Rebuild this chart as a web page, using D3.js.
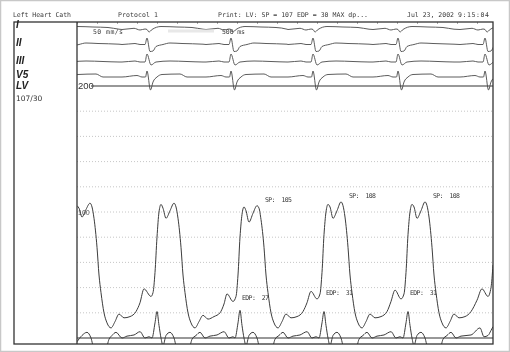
<!DOCTYPE html>
<meta charset="utf-8">
<head>
<style>
body { margin: 0; background: #fff; }
svg { will-change: transform; }
text { font-family: "DejaVu Sans Mono", monospace; fill: #3a3a3a; }
.lead { font-family: "Liberation Sans", Arial, sans-serif; font-weight: bold; font-style: italic; font-size: 10px; fill: #222; }
.trace { fill: none; stroke: #3c3c3c; stroke-width: 1; }
.ecg { fill: none; stroke: #4a4a4a; stroke-width: 0.9; }
.grid { stroke: #b8b8b8; stroke-width: 0.8; stroke-dasharray: 1,2; }
.note { font-size: 6.5px; white-space: pre; }
</style>
</head>
<body>
<div id="chart"></div>
<script src="https://d3js.org/d3.v7.min.js"></script>
<script>

// header strings
var headerTexts = ["Left Heart Cath", "Protocol 1", "Print: LV: SP = 107 EDP = 30 MAX dp...", "Jul 23, 2002", "9:15:04"];
var leadNames = ["I", "II", "III", "V5", "LV"];
var lvReading = "107/30";

// LV pressure, [ms, mmHg]
var lvPressure = [
  [0,105],[20,103],[50,96],[90,102],[130,107],[150,104],[170,95],[200,72],[220,50],[240,36],[270,20],[300,12],[340,8],
  [380,13],[420,19],[470,16],[530,17],[590,21],[630,28],[670,39],
  [740,33],[760,36],[780,52],[800,80],[820,100],[840,106],[860,103],[890,95],[930,101],[970,107],[990,104],[1010,95],
  [1040,72],[1060,50],[1080,36],[1110,20],[1140,12],[1180,8],[1220,13],[1260,18],[1310,15],[1370,17],[1430,20],[1470,27],[1500,35],
  [1560,29],[1590,33],[1610,50],[1630,80],[1650,98],[1670,104],[1690,101],[1720,92],[1760,99],[1800,105],[1820,103],[1840,94],
  [1870,72],[1890,50],[1910,36],[1940,20],[1970,12],[2010,8],[2050,13],[2090,19],[2140,16],[2200,17],[2260,21],[2300,28],[2340,37],
  [2400,31],[2430,35],[2450,52],[2470,82],[2490,100],[2510,106],[2530,104],[2560,95],[2600,101],[2640,108],[2660,105],[2680,96],
  [2710,72],[2730,50],[2750,36],[2780,20],[2810,12],[2850,8],[2890,13],[2930,19],[2980,16],[3040,17],[3100,21],[3140,29],[3180,38],
  [3240,31],[3270,35],[3290,52],[3310,82],[3330,100],[3350,106],[3370,104],[3400,95],[3440,101],[3480,108],[3500,105],[3520,96],
  [3550,72],[3570,50],[3590,36],[3620,20],[3650,12],[3690,8],[3730,13],[3770,19],[3820,16],[3880,17],[3940,21],[4000,30],[4050,39],
  [4110,33],[4140,40],[4160,58]
];

// second (dP/dt) channel, drawn on the same pressure grid
var lvDerivative = [
  [0,-3],[50,2],[100,4.5],[140,0],[170,-8],[290,-8],[320,-1],[350,2],[390,4.5],[450,0],[500,1.5],[570,2.4],[630,5],[680,0],[720,1],
  [750,0],[780,12],[800,21],[820,10],[840,0],[860,-6],[890,2],[930,4.5],[970,0],[1000,-8],[1120,-8],[1150,-1],[1190,2],[1230,4.5],
  [1280,0],[1330,1.5],[1400,2.4],[1470,5],[1520,0],[1560,1],
  [1580,0],[1610,12],[1630,22],[1650,10],[1670,0],[1690,-6],[1720,2],[1760,4.5],[1800,0],[1830,-8],[1950,-8],[1980,-1],[2020,2],
  [2060,4.5],[2110,0],[2160,1.5],[2230,2.4],[2300,5],[2350,0],[2390,1],
  [2420,0],[2450,12],[2470,21],[2490,10],[2510,0],[2530,-6],[2560,2],[2600,4.5],[2640,0],[2670,-8],[2790,-8],[2820,-1],[2860,2],
  [2900,4.5],[2950,0],[3000,1.5],[3070,2.4],[3140,5],[3190,0],[3230,1],
  [3260,0],[3290,12],[3310,21],[3330,10],[3350,0],[3370,-6],[3400,2],[3440,4.5],[3480,0],[3510,-8],[3630,-8],[3660,-1],[3700,2],
  [3740,4.5],[3790,0],[3840,1.5],[3940,2.4],[4030,8],[4070,1],[4110,2],[4140,6],[4160,9]
];

// ECG: R-wave times (ms) and the beat shape of each lead, [ms from R, amplitude]
var rWaveTimes = [-140, 700, 1540, 2360, 3210, 4080];
var leadI   = [[-250,0],[-130,1.2],[-70,-0.5],[-20,0.5],[0,0],[20,-2.5],[50,0],[140,3],[300,2.5],[450,2],[560,0.3]];
var leadII  = [[-250,0],[-120,1],[-70,0],[-20,0],[0,6.5],[30,-7],[60,-6.5],[90,-2],[160,0],[230,1.5],[350,1],[560,0.3]];
var leadIII = [[-250,0],[-120,1],[-70,0],[-20,0],[0,8],[40,-3],[90,0],[230,1],[400,0.5],[560,0]];
var leadV5  = [[-250,0],[-100,1.5],[-50,0],[-15,0],[0,6],[35,-13],[60,-5],[100,0],[150,2.5],[330,3],[400,0],[560,0]];

var gridValues = [20, 40, 60, 80, 100, 120, 140, 160, 180];
var systolic = [[1800,105],[2640,108],[3480,108]];
var endDiastolic = [[1560,27],[2400,31],[3240,31]];

var W = 510, H = 352;
var svg = d3.select("#chart").append("svg").attr("width", W).attr("height", H);

svg.append("rect").attr("x", 0.5).attr("y", 0.5).attr("width", W - 1).attr("height", H - 1)
  .attr("fill", "#fff").attr("stroke", "#c8c8c8").attr("stroke-width", 1.5);

var x = d3.scaleLinear().domain([0, 4160]).range([77, 493]);
var y = d3.scaleLinear().domain([0, 200]).range([338, 86]);

// header
var headerX = [13, 118, 218, 407, 458];
var headerW = [58, 40, 150, 47, 31];
svg.selectAll(".hdr").data(headerTexts).enter().append("text")
  .attr("class", "note")
  .attr("x", function(d, i) { return headerX[i]; })
  .attr("y", 17)
  .attr("textLength", function(d, i) { return headerW[i]; })
  .attr("lengthAdjust", "spacing")
  .text(function(d) { return d; });

svg.append("clipPath").attr("id", "plotclip")
  .append("rect").attr("x", 77).attr("y", 22).attr("width", 416).attr("height", 322);

// ruler ticks along the top edge
svg.append("g")
  .attr("transform", "translate(0,22)")
  .call(d3.axisBottom(x).tickValues(d3.range(0, 4160, 200)).tickSize(2).tickFormat(""))
  .call(function(g) { g.select(".domain").remove(); g.selectAll("line").attr("stroke", "#aaa"); });

// grid
svg.selectAll(".grid").data(gridValues).enter().append("line")
  .attr("class", "grid")
  .attr("x1", x(0)).attr("x2", x(4160))
  .attr("y1", function(d) { return y(d); }).attr("y2", function(d) { return y(d); });

svg.append("line").attr("x1", x(0) + 14).attr("x2", x(4160)).attr("y1", y(200)).attr("y2", y(200))
  .attr("stroke", "#333").attr("stroke-width", 1.1);
svg.append("line").attr("x1", x(0)).attr("x2", x(4160)).attr("y1", y(0)).attr("y2", y(0))
  .attr("stroke", "#333").attr("stroke-width", 1.1);

svg.append("text").attr("x", 78).attr("y", y(200) + 3.3)
  .style("font-family", "'Liberation Sans', Arial, sans-serif").style("font-size", "9.5px").style("fill", "#333")
  .text("200");
svg.append("text").attr("x", 78).attr("y", y(100) + 2.5)
  .style("font-family", "'Liberation Sans', Arial, sans-serif").style("font-size", "7px").style("fill", "#555")
  .text("100");

var plot = svg.append("g").attr("clip-path", "url(#plotclip)");

// ECG leads
function buildLead(shape) {
  var pts = [];
  rWaveTimes.forEach(function(r) {
    shape.forEach(function(p) { pts.push([r + p[0], p[1]]); });
  });
  return pts;
}
var leads = [
  {data: leadI, base: 29.5},
  {data: leadII, base: 44.5},
  {data: leadIII, base: 62},
  {data: leadV5, base: 77}
];
leads.forEach(function(l) {
  var a = d3.scaleLinear().domain([-10, 10]).range([l.base + 10, l.base - 10]);
  var line = d3.line().x(function(d) { return x(d[0]); }).y(function(d) { return a(d[1]); }).curve(d3.curveMonotoneX);
  plot.append("path").attr("class", "ecg").attr("d", line(buildLead(l.data)));
});

var pline = d3.line().x(function(d) { return x(d[0]); }).y(function(d) { return y(d[1]); }).curve(d3.curveMonotoneX);
plot.append("path").attr("class", "trace").attr("d", pline(lvDerivative));
plot.append("path").attr("class", "trace").attr("d", pline(lvPressure));

// speed marks
svg.append("rect").attr("x", 168).attr("y", 29.5).attr("width", 46).attr("height", 3).attr("fill", "#e8e8e8");
svg.append("text").attr("class", "note").attr("x", 93).attr("y", 34).attr("textLength", 30).text("50 mm/s");
svg.append("text").attr("class", "note").attr("x", 222).attr("y", 34).attr("textLength", 23).text("500 ms");

// beat annotations
svg.selectAll(".sp").data(systolic).enter().append("text")
  .attr("class", "note")
  .attr("x", function(d) { return x(d[0]) + 8; })
  .attr("y", function(d) { return y(d[1]) - 4; })
  .attr("textLength", 27)
  .text(function(d) { return "SP:  " + d[1]; });
svg.selectAll(".edp").data(endDiastolic).enter().append("text")
  .attr("class", "note")
  .attr("x", function(d) { return x(d[0]) + 9; })
  .attr("y", function(d) { return y(d[1]) - 4; })
  .attr("textLength", 27)
  .text(function(d) { return "EDP:  " + d[1]; });

// frame
svg.append("rect").attr("x", 14).attr("y", 22).attr("width", 479).attr("height", 322)
  .attr("fill", "none").attr("stroke", "#333").attr("stroke-width", 1.3);
svg.append("line").attr("x1", 77).attr("x2", 77).attr("y1", 22).attr("y2", 344)
  .attr("stroke", "#333").attr("stroke-width", 1.3);

// lead labels
var leadY = [28, 46, 64, 78, 89];
svg.selectAll(".lead").data(leadNames).enter().append("text")
  .attr("class", "lead")
  .attr("x", 16)
  .attr("y", function(d, i) { return leadY[i]; })
  .text(function(d) { return d; });
svg.append("text").attr("x", 16).attr("y", 101)
  .style("font-family", "'DejaVu Sans', sans-serif").style("font-size", "7.5px").style("fill", "#333")
  .text(lvReading);

</script>
</body>
